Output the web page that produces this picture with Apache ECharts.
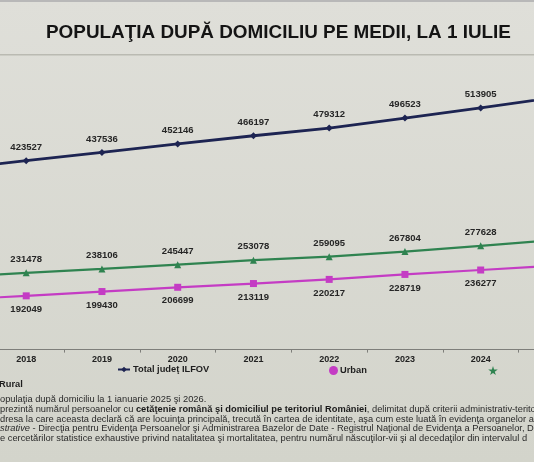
<!DOCTYPE html>
<html>
<head>
<meta charset="utf-8">
<script src="https://cdn.jsdelivr.net/npm/echarts@6/dist/echarts.min.js"></script>
<style>
  html, body { margin: 0; padding: 0; background: #d8d9d0; }
  #chart { width: 534px; height: 462px; }
</style>
</head>
<body>
<div id="chart"></div>
<script>
// date (2017 si 2025 sunt taiate in poza, estimate)
var years = ['2017', '2018', '2019', '2020', '2021', '2022', '2023', '2024', '2025'];
var totalIlfov = [409000, 423527, 437536, 452146, 466197, 479312, 496523, 513905, 532000];
var urban = [185000, 192049, 199430, 206699, 213119, 220217, 228719, 236277, 244000];
var rural = [224000, 231478, 238106, 245447, 253078, 259095, 267804, 277628, 288000];

var FONT = '"Liberation Sans", Arial, sans-serif';
var STAR = 'path://M50,0 L61,35 L98,35 L68,57 L79,91 L50,70 L21,91 L32,57 L2,35 L39,35 Z';

// primul si ultimul an sunt in afara pozei, fara eticheta
function edgeLabel(p) {
    if (p.dataIndex == 0 || p.dataIndex == years.length - 1) return '';
    return p.value;
}

var labelStyle = {
    show: true,
    fontFamily: FONT,
    fontSize: 9.5,
    fontWeight: 'bold',
    color: '#262626',
    distance: 5,
    formatter: edgeLabel
};

var option = {
    backgroundColor: {
        type: 'linear', x: 0, y: 0, x2: 0, y2: 1,
        colorStops: [{ offset: 0, color: '#dfdfd9' }, { offset: 1, color: '#d3d4cb' }]
    },
    animation: false,
    title: {
        text: 'POPULAŢIA DUPĂ DOMICILIU PE MEDII, LA 1 IULIE',
        left: 46,
        top: 23,
        padding: 0,
        textStyle: { fontFamily: FONT, fontSize: 18.9, fontWeight: 'bold', color: '#141414' }
    },
    grid: {
        left: -87.4, right: -60.3, top: 57.6, bottom: 112.4,
        containLabel: false,
        outerBoundsMode: 'none'
    },
    xAxis: {
        type: 'category',
        data: years,
        boundaryGap: true,
        axisLine: { lineStyle: { color: '#7e7e7a', width: 1 } },
        axisTick: { show: true, length: 3, lineStyle: { color: '#7e7e7a' } },
        axisLabel: {
            fontFamily: FONT, fontSize: 9, fontWeight: 'bold', color: '#222', margin: 5,
            formatter: function (v, i) {
                return (i == 0 || i == years.length - 1) ? '' : v;
            }
        }
    },
    yAxis: {
        type: 'value',
        min: 100000,
        max: 600000,
        show: false,
        splitLine: { show: false }
    },
    legend: [
        {
            data: ['Total judeţ ILFOV'],
            left: 117, top: 365, padding: 0,
            itemWidth: 12, itemHeight: 7,
            textStyle: { fontFamily: FONT, fontSize: 9.3, fontWeight: 'bold', color: '#1e1e1e', padding: [0, 0, 0, -2] }
        },
        {
            data: [{ name: 'Urban', icon: 'circle' }],
            left: 329, top: 366, padding: 0,
            itemWidth: 9, itemHeight: 9, itemGap: 2,
            textStyle: { fontFamily: FONT, fontSize: 9.3, fontWeight: 'bold', color: '#1e1e1e', padding: [0, 0, 0, -3] }
        },
        {
            data: [{ name: 'Rural', icon: STAR }],
            left: 488, top: 366, padding: 0,
            itemWidth: 10, itemHeight: 9,
            formatter: function () { return ''; }
        }
    ],
    graphic: [
        { type: 'rect', shape: { x: 0, y: 54, width: 534, height: 1.5 }, style: { fill: '#babab2' }, silent: true },
        { type: 'rect', shape: { x: 0, y: 0, width: 534, height: 2 }, style: { fill: '#b8b8b8' }, silent: true },
        {
            type: 'text', left: -1, top: 380,
            style: { text: 'Rural', font: 'bold 9.3px ' + FONT, fill: '#1e1e1e' }
        },
        {
            type: 'text', left: 0, top: 394.5,
            style: { text: 'opulaţia după domiciliu la 1 ianuarie 2025 şi 2026.', font: '9.3px ' + FONT, fill: '#2a2a2a' }
        },
        {
            type: 'text', left: 0, top: 405,
            style: {
                text: 'prezintă numărul persoanelor cu {b|cetăţenie română şi domiciliul pe teritoriul României}, delimitat după criterii administrativ-terito',
                font: '9.3px ' + FONT, fill: '#2a2a2a',
                rich: { b: { fontWeight: 'bold', fontSize: 9.3, fontFamily: FONT, fill: '#1a1a1a' } }
            }
        },
        {
            type: 'text', left: 0, top: 414.5,
            style: { text: 'dresa la care aceasta declară că are locuinţa principală, trecută în cartea de identitate, aşa cum este luată în evidenţa organelor ad', font: '9.3px ' + FONT, fill: '#2a2a2a' }
        },
        {
            type: 'text', left: 0, top: 424,
            style: {
                text: '{i|strative} - Direcţia pentru Evidenţa Persoanelor şi Administrarea Bazelor de Date - Registrul Naţional de Evidenţa a Persoanelor, D',
                font: '9.3px ' + FONT, fill: '#2a2a2a',
                rich: { i: { fontStyle: 'italic', fontSize: 9.3, fontFamily: FONT, fill: '#2a2a2a' } }
            }
        },
        {
            type: 'text', left: 0, top: 433.5,
            style: { text: 'e cercetărilor statistice exhaustive privind natalitatea şi mortalitatea, pentru numărul născuţilor-vii şi al decedaţilor din intervalul d', font: '9.3px ' + FONT, fill: '#2a2a2a' }
        }
    ],
    series: [
        {
            name: 'Total judeţ ILFOV',
            type: 'line',
            data: totalIlfov,
            symbol: 'diamond',
            symbolSize: 7,
            lineStyle: { color: '#1d2452', width: 2.8 },
            itemStyle: { color: '#1d2452' },
            label: Object.assign({}, labelStyle, { position: 'top' })
        },
        {
            name: 'Urban',
            type: 'line',
            data: urban,
            symbol: 'rect',
            symbolSize: 7,
            lineStyle: { color: '#c43cc4', width: 2.2 },
            itemStyle: { color: '#c43cc4' },
            label: Object.assign({}, labelStyle, { position: 'bottom' })
        },
        {
            name: 'Rural',
            type: 'line',
            data: rural,
            symbol: 'triangle',
            symbolSize: 7,
            lineStyle: { color: '#2f8350', width: 2.2 },
            itemStyle: { color: '#2f8350' },
            label: Object.assign({}, labelStyle, { position: 'top' })
        }
    ]
};

var myChart = echarts.init(document.getElementById('chart'));
myChart.setOption(option);
</script>
</body>
</html>
